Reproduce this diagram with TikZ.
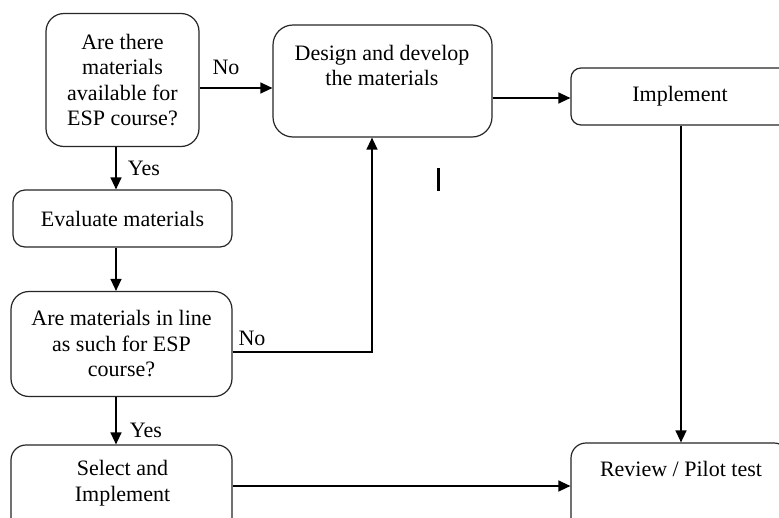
\documentclass[tikz,border=0pt]{standalone}
\usepackage{fontspec}
\setmainfont{Liberation Serif}
\usetikzlibrary{arrows.meta}
\begin{document}
\begin{tikzpicture}[x=1pt,y=-1pt,
  box/.style={draw=black!85, line width=1.2pt, rectangle, inner sep=0pt},
  txt/.style={align=center, inner sep=0pt, font=\fontsize{22pt}{25.5pt}\selectfont},
  lbl/.style={inner sep=0pt, font=\fontsize{22pt}{25.5pt}\selectfont},
  arr/.style={line width=1.3pt, -{Triangle[length=12pt,width=11pt]}},
  ln/.style={line width=1.3pt}]
\useasboundingbox (0,0) rectangle (779,517);
\clip (0,0) rectangle (779,517);
\fill[white] (0,0) rectangle (779,517);
% boxes
\node[box, rounded corners=18pt, minimum width=153pt, minimum height=133pt, txt] (b1) at (122.5,80)
  {Are there\\materials\\available for\\ESP course?};
\node[box, rounded corners=20pt, minimum width=219pt, minimum height=112pt] (b2) at (382.5,81) {};
\node[txt] (b2t) at (382,65.5) {Design and develop\\the materials};
\node[box, rounded corners=10pt, minimum width=218pt, minimum height=57pt, txt] (impl) at (680,96.5) {Implement};
\node[box, rounded corners=12pt, minimum width=219pt, minimum height=57pt, txt] (eval) at (122.5,218.5) {Evaluate materials};
\node[box, rounded corners=18pt, minimum width=221pt, minimum height=105pt, txt] (line) at (121.5,344)
  {Are materials in line\\as such for ESP\\course?};
\node[box, rounded corners=15pt, minimum width=221pt, minimum height=100pt] (sel) at (121.5,495) {};
\node[txt] (selt) at (122.5,483) {Select and\\Implement};
\node[box, rounded corners=15pt, minimum width=218pt, minimum height=100pt] (rev) at (680,493) {};
\node[txt] (revt) at (681,469) {Review / Pilot test};
% connectors
\draw[arr] (b1.east |- 0,88) -- (b2.west |- 0,88);
\node[lbl] (no1) at (226,67) {No};
\draw[arr] (b2.east |- 0,98) -- (impl.west |- 0,98);
\draw[arr] (b1.south -| 116,0) -- (eval.north -| 116,0);
\node[lbl] (yes1) at (144,168) {Yes};
\draw[arr] (eval.south -| 116,0) -- (line.north -| 116,0);
\coordinate (bend) at (372,352);
\draw[arr] (line.east |- bend) -- (bend) -- (b2.south -| bend);
\node[lbl] (no2) at (252,338) {No};
\draw[arr] (line.south -| 116,0) -- (sel.north -| 116,0);
\node[lbl] (yes2) at (146,430) {Yes};
\draw[arr] (sel.east |- 0,486) -- (rev.west |- 0,486);
\draw[arr] (impl.south -| 681,0) -- (rev.north -| 681,0);
% cursor mark
\coordinate (m1) at (438,168);
\coordinate (m2) at (438,191);
\draw[line width=3pt] (m1) -- (m2);
\end{tikzpicture}
\end{document}
